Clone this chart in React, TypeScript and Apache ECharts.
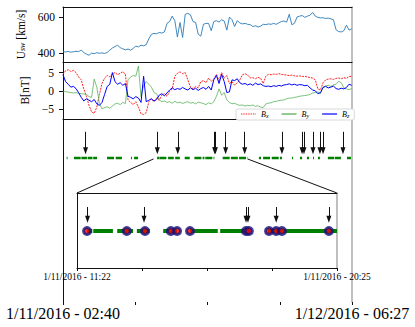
import React, { useEffect, useRef } from 'react';
import * as echarts from 'echarts';

const FONT = '"Liberation Serif", "Times New Roman", Times, serif';

// time in minutes since 1/11/2016 00:00
const T_START = 160; // 1/11/2016 02:40
const T_END = 1827; // 1/12/2016 06:27
const STEP = 15;
const INSET_START = 682; // 1/11/2016 11:22
const INSET_END = 1225; // 1/11/2016 20:25

const MAIN_TICK_LABELS = ['1/11/2016 - 02:40', '1/12/2016 - 06:27'];
const INSET_TICK_LABELS = ['1/11/2016 - 11:22', '1/11/2016 - 20:25'];
const U_TICKS = [400, 600];
const B_TICKS = [-5, 0, 5];

const U_SW = [
  410, 408, 411, 407, 409, 412, 410, 418, 405, 396,
  390, 402, 399, 404, 401, 403, 400, 405, 418, 430,
  438, 445, 432, 425, 420, 424, 418, 428, 440, 436,
  445, 442, 448, 480, 505, 510, 508, 515, 512, 518,
  565, 575, 605, 580, 490, 570, 488, 615, 620, 612,
  575, 570, 505, 495, 560, 565, 565, 525, 575, 580,
  572, 585, 578, 528, 600, 585, 548, 580, 568, 562,
  565, 560, 558, 548, 552, 545, 550, 560, 558, 562,
  560, 565, 560, 568, 575, 578, 572, 615, 558, 565,
  600, 605, 608, 598, 605, 610, 625, 605, 598, 595,
  596, 592, 594, 590, 585, 530, 520, 518, 525, 555,
  528, 535,
];

const BX = [
  4.5, 5.5, 5.8, 5.3, 5.6, 5.0, 3.8, 3.0, 0.5, -1.5,
  -4.0, -5.8, -6.2, -4.5, -1.0, 2.0, 3.5, 4.2, 3.8, 4.6,
  5.0, 4.4, 4.8, 5.2, 4.6, -2.5, -3.2, -3.8, -3.0, -4.5,
  -6.3, -6.5, -6.0, -3.0, -2.2, -3.0, -2.0, -2.6, -1.2, -0.8,
  -1.5, -0.2, 0.5, 4.0, 4.8, 5.2, 4.7, 5.0, 3.0, 1.0,
  0.6, 1.2, 0.8, 2.5, 2.8, 2.2, 3.5, 2.6, 3.2, 4.5,
  2.8, 5.0, 3.5, 4.2, 2.0, 2.5, 1.5, 2.2, 3.0, 4.4,
  4.7, 4.3, 3.5, 3.6, 3.3, 3.7, 3.4, 2.0, 4.0, 4.5,
  4.4, 4.6, 4.5, 4.7, 4.5, 4.4, 4.3, 4.2, 4.3, 4.1,
  4.0, 4.1, 3.9, 4.0, 3.8, 3.6, 3.5, 3.0, 0.5, 0.2,
  2.2, 3.0, 3.2, 3.3, 3.1, 3.4, 3.5, 3.3, 3.6, 3.4,
  3.9, 4.0,
];

const BY = [
  -0.3, -0.2, -0.4, -0.5, -0.6, -0.5, -0.7, -0.8, -0.9, -1.0,
  -1.6, -1.8, 3.2, 1.0, -3.5, -5.0, -4.6, -4.4, -4.8, -4.2,
  -3.6, -3.4, -3.8, -3.2, -3.5, 3.0, 3.8, 4.2, 4.0, 6.8,
  -1.6, 1.5, 2.5, 1.8, 1.0, -0.5, -0.8, -2.5, -3.0, -2.8,
  -3.2, -3.0, -3.4, -2.9, -3.3, -3.1, -3.5, -3.2, -3.0, -3.4,
  -3.2, -3.6, -3.1, -3.3, -3.5, -3.8, -3.3, -3.6, -3.0, -1.5,
  0.5, -1.2, -0.5, -2.5, -3.2, -3.6, -3.4, -3.8, -4.0, -3.9,
  -4.2, -4.0, -4.1, -3.9, -4.3, -4.1, -4.5, -4.6, -3.6, -3.4,
  -3.3, -3.0, -2.9, -2.7, -2.6, -2.5, -2.2, -2.0, -2.0, -1.8,
  -1.7, -1.5, -1.4, -1.3, -1.2, -1.0, -0.6, -0.5, -0.3, -0.8,
  1.0, 1.3, 1.5, 1.2, 1.6, 1.8, 2.6, 2.2, 0.8, 0.5,
  0.3, 0.6,
];

const BZ = [
  4.4, 2.5, 1.8, 1.0, 1.2, 0.6, -0.5, -1.8, -2.8, -2.2,
  -2.6, -3.0, -2.4, -3.6, -4.0, -3.2, -1.0, 1.2, 1.8, 5.0,
  2.5, 1.8, 2.2, 1.5, 2.0, -1.5, -1.8, -2.2, -1.6, -2.0,
  -3.2, 4.0, -3.0, -2.6, -2.2, -2.8, -2.4, -1.2, -0.8, -1.4,
  -0.6, 0.2, 0.8, 0.3, 0.6, 0.4, 0.9, 0.5, 0.2, 0.8,
  0.3, 0.7, 0.1, 0.6, 0.9, 0.4, 1.2, 0.2, 3.0, 4.2,
  2.0, 4.5, 2.5, -0.5, -0.3, 3.0, 2.8, 3.3, 2.2, 1.8,
  2.0, 1.6, 1.9, 1.5, 2.1, 1.7, 1.9, 1.4, 1.2, 1.3,
  1.1, 1.4, 1.2, 1.5, 1.3, 1.6, 1.7, 1.9, 1.6, 1.8,
  1.5, 1.7, 1.6, 1.4, 1.5, 0.8, 0.2, 0.0, -0.8, -0.5,
  0.9, 1.2, 0.8, 1.0, 1.3, 0.6, 0.4, 0.7, 0.5, 0.9,
  1.8, 1.5,
];

// event times (arrows)
const EVENTS = [290, 704, 822, 1035, 1039, 1098, 1208, 1423, 1539, 1550, 1602, 1642, 1660, 1775];
// detected points shown in the zoomed inset
const INSET_MARKERS = [703, 786, 824, 878, 891, 918, 1035, 1041, 1083, 1098, 1110, 1208];
// data coverage intervals [start, end]
const COVERAGE = [
  [181, 186], [223, 262], [266, 298], [302, 330], [334, 356], [414, 460], [464, 500], [552, 558], [570, 593],
  [703, 714], [716, 757], [766, 799], [807, 834], [862, 891], [918, 976], [981, 1033], [1081, 1225],
  [1290, 1302], [1314, 1360], [1364, 1423], [1481, 1487], [1527, 1539], [1567, 1579], [1602, 1608],
  [1631, 1642], [1688, 1725], [1729, 1763], [1798, 1821],
];

// layout constants (fractions of the timeline panels' height)
const MAIN_STRIP = 0.787;
const MAIN_ARROW_TOP = 0.93;
const MAIN_ARROW_END = 0.826;
const INSET_STRIP = 0.493;
const INSET_ARROW_TOP = 0.813;
const INSET_ARROW_END = 0.65;

const BLACK = '#111';
const GRAY = '#b0b0b0';

const DOTTED_ICON =
  'path://M0,0h1.4v1.2h-1.4z M2.4,0h1.4v1.2h-1.4z M4.8,0h1.4v1.2h-1.4z M7.2,0h1.4v1.2h-1.4z M9.6,0h1.4v1.2h-1.4z M12,0h1.4v1.2h-1.4z M14.4,0h0.6v1.2h-0.6z';
const SOLID_ICON = 'path://M0,0h15v1.2h-15z';

const toSeries = (vals: number[]) => vals.map((v, i) => [T_START + STEP * i, v]);
const stripData = (y: number) => {
  const out: any[] = [];
  COVERAGE.forEach(([a, b]) => {
    out.push([a, y], [b, y], [b, '-']);
  });
  return out;
};
const quarters = (a: number, b: number) => [0, 1, 2, 3, 4].map((k) => a + ((b - a) * k) / 4);
const minus = (v: number) => (v < 0 ? '\u2212' + Math.abs(v) : String(v));

const hiddenAxis = (extra: any) => ({
  type: 'value',
  axisTick: { show: false },
  axisLabel: { show: false },
  splitLine: { show: false },
  ...extra,
});

export default function App() {
  const ref = useRef<HTMLDivElement>(null);
  useEffect(() => {
    document.body.style.margin = '0';
    if (!ref.current) return;
    const chart = echarts.init(ref.current, undefined, { renderer: 'svg' });
    const blackLine = { show: true, onZero: false, lineStyle: { color: BLACK, width: 1 } };
    const grayLine = { show: true, onZero: false, lineStyle: { color: GRAY, width: 1.6 } };
    const insetEvents = EVENTS.filter((t) => t >= INSET_START && t <= INSET_END);

    const option: any = {
      animation: false,
      textStyle: { fontFamily: FONT },
      grid: [
        { left: 63, top: 7, width: 289, height: 55, outerBoundsMode: 'none' },
        { left: 63, top: 62, width: 289, height: 57, outerBoundsMode: 'none' },
        { left: 63, top: 119, width: 289, height: 183, outerBoundsMode: 'none' },
        { left: 77, top: 193, width: 260, height: 75, outerBoundsMode: 'none' },
      ],
      xAxis: [
        hiddenAxis({ gridIndex: 0, min: T_START, max: T_END, axisLine: blackLine }),
        hiddenAxis({ gridIndex: 0, min: T_START, max: T_END, position: 'top', axisLine: blackLine }),
        hiddenAxis({ gridIndex: 1, min: T_START, max: T_END, axisLine: blackLine }),
        {
          type: 'value', gridIndex: 2, min: T_START, max: T_END,
          axisLine: { show: false, onZero: false },
          splitLine: { show: false },
          axisTick: { show: true, customValues: quarters(T_START, T_END), length: 3, lineStyle: { color: BLACK } },
          axisLabel: {
            show: true, customValues: [T_START, T_END], showMinLabel: true, showMaxLabel: true,
            formatter: (v: number) => (Math.abs(v - T_START) < 1 ? MAIN_TICK_LABELS[0] : MAIN_TICK_LABELS[1]),
            fontFamily: FONT, fontSize: 16, color: '#000', margin: 3,
          },
        },
        {
          type: 'value', gridIndex: 3, min: INSET_START, max: INSET_END,
          axisLine: blackLine,
          splitLine: { show: false },
          axisTick: { show: true, customValues: quarters(INSET_START, INSET_END), length: 3, lineStyle: { color: BLACK } },
          axisLabel: {
            show: true, customValues: [INSET_START, INSET_END], showMinLabel: true, showMaxLabel: true,
            formatter: (v: number) => (Math.abs(v - INSET_START) < 1 ? INSET_TICK_LABELS[0] : INSET_TICK_LABELS[1]),
            fontFamily: FONT, fontSize: 9.5, color: '#000', margin: 4,
          },
        },
        hiddenAxis({ gridIndex: 3, min: INSET_START, max: INSET_END, position: 'top', axisLine: blackLine }),
      ],
      yAxis: [
        {
          type: 'value', gridIndex: 0, min: 353, max: 655,
          axisLine: blackLine, splitLine: { show: false },
          axisTick: { show: true, customValues: U_TICKS, length: 4, lineStyle: { color: BLACK } },
          axisLabel: { show: true, customValues: U_TICKS, fontFamily: FONT, fontSize: 11.5, color: '#000', margin: 8 },
          name: '{u|U}{s|sw}{u| [km/s]}',
          nameLocation: 'middle', nameGap: 23,
          nameTextStyle: {
            color: '#000', fontFamily: FONT, fontSize: 11.5,
            rich: {
              u: { fontFamily: FONT, fontSize: 11.5, color: '#000' },
              s: { fontFamily: FONT, fontSize: 8, fontStyle: 'italic', color: '#000', verticalAlign: 'bottom', lineHeight: 5 },
            },
          },
        },
        hiddenAxis({ gridIndex: 0, min: 353, max: 655, position: 'right', axisLine: grayLine }),
        {
          type: 'value', gridIndex: 1, min: -7.75, max: 7.9,
          axisLine: blackLine, splitLine: { show: false },
          axisTick: { show: true, customValues: B_TICKS, length: 4, lineStyle: { color: BLACK } },
          axisLabel: { show: true, customValues: B_TICKS, formatter: minus, fontFamily: FONT, fontSize: 11.5, color: '#000', margin: 9 },
          name: 'B[nT]',
          nameLocation: 'middle', nameGap: 21,
          nameTextStyle: { color: '#000', fontFamily: FONT, fontSize: 11.5 },
        },
        hiddenAxis({ gridIndex: 1, min: -7.75, max: 7.9, position: 'right', axisLine: grayLine }),
        hiddenAxis({ gridIndex: 2, min: 0, max: 1, axisLine: blackLine }),
        hiddenAxis({ gridIndex: 2, min: 0, max: 1, position: 'right', axisLine: grayLine }),
        hiddenAxis({ gridIndex: 3, min: 0, max: 1, axisLine: blackLine }),
        hiddenAxis({ gridIndex: 3, min: 0, max: 1, position: 'right', axisLine: grayLine }),
      ],
      legend: {
        data: [
          { name: 'Bx', icon: DOTTED_ICON },
          { name: 'By', icon: SOLID_ICON },
          { name: 'Bz', icon: SOLID_ICON },
        ],
        left: 236, top: 109,
        itemWidth: 15, itemHeight: 1.2, itemGap: 13,
        padding: [1, 5, 1, 5],
        backgroundColor: '#fff', borderColor: '#cfcfcf', borderWidth: 0.8, borderRadius: 2,
        formatter: (name: string) => `{b|B}{s|${name.slice(1)}}`,
        textStyle: {
          fontFamily: FONT, fontSize: 8, color: '#000',
          rich: {
            b: { fontFamily: FONT, fontSize: 8, fontStyle: 'italic', color: '#000', lineHeight: 10 },
            s: { fontFamily: FONT, fontSize: 6, fontStyle: 'italic', color: '#000', verticalAlign: 'bottom', lineHeight: 5 },
          },
        },
      },
      series: [
        {
          name: 'Usw', type: 'line', xAxisIndex: 0, yAxisIndex: 0, data: toSeries(U_SW),
          symbol: 'none', lineStyle: { color: '#2a7ab8', width: 0.9 }, silent: true,
        },
        {
          name: 'Bx', type: 'line', xAxisIndex: 2, yAxisIndex: 2, data: toSeries(BX),
          symbol: 'none', itemStyle: { color: '#ff2020' }, lineStyle: { color: '#ff2020', width: 1, type: [2, 1] }, silent: true,
        },
        {
          name: 'By', type: 'line', xAxisIndex: 2, yAxisIndex: 2, data: toSeries(BY),
          symbol: 'none', itemStyle: { color: '#4aa84a' }, lineStyle: { color: '#4aa84a', width: 0.9, opacity: 0.8 }, silent: true,
        },
        {
          name: 'Bz', type: 'line', xAxisIndex: 2, yAxisIndex: 2, data: toSeries(BZ),
          symbol: 'none', itemStyle: { color: '#0000ff' }, lineStyle: { color: '#0000ff', width: 1 }, silent: true,
        },
        {
          name: 'coverage', type: 'line', xAxisIndex: 3, yAxisIndex: 4, data: stripData(MAIN_STRIP),
          symbol: 'none', connectNulls: false, lineStyle: { color: '#008000', width: 2.6, type: [7, 1.2] }, silent: true,
          markLine: {
            silent: true, symbol: ['none', 'triangle'], symbolSize: [5, 7],
            lineStyle: { color: BLACK, width: 1, type: 'solid' }, label: { show: false },
            data: EVENTS.map((t) => [{ coord: [t, MAIN_ARROW_TOP] }, { coord: [t, MAIN_ARROW_END] }]),
          },
        },
        {
          name: 'coverageInset', type: 'line', xAxisIndex: 4, yAxisIndex: 6, data: stripData(INSET_STRIP),
          symbol: 'none', connectNulls: false, lineStyle: { color: '#008000', width: 4 }, silent: true,
          markLine: {
            silent: true, symbol: ['none', 'triangle'], symbolSize: [5, 7],
            lineStyle: { color: BLACK, width: 1, type: 'solid' }, label: { show: false },
            data: insetEvents.map((t) => [{ coord: [t, INSET_ARROW_TOP] }, { coord: [t, INSET_ARROW_END] }]),
          },
        },
        {
          name: 'markers', type: 'scatter', xAxisIndex: 4, yAxisIndex: 6,
          data: INSET_MARKERS.map((t) => [t, INSET_STRIP]),
          symbol: 'circle', symbolSize: 7, silent: true, z: 5,
          itemStyle: { color: '#ff0000', borderColor: '#12127a', borderWidth: 3 },
        },
      ],
    };
    chart.setOption(option);

    const a = chart.convertToPixel({ seriesIndex: 4 }, [INSET_START, MAIN_STRIP]) as number[];
    const b = chart.convertToPixel({ seriesIndex: 4 }, [INSET_END, MAIN_STRIP]) as number[];
    const c = chart.convertToPixel({ seriesIndex: 5 }, [INSET_START, 1]) as number[];
    const d = chart.convertToPixel({ seriesIndex: 5 }, [INSET_END, 1]) as number[];
    chart.setOption({
      graphic: [
        { type: 'line', shape: { x1: a[0], y1: a[1] + 1, x2: c[0], y2: c[1] }, style: { stroke: BLACK, lineWidth: 1 } },
        { type: 'line', shape: { x1: b[0], y1: b[1] + 1, x2: d[0], y2: d[1] }, style: { stroke: BLACK, lineWidth: 1 } },
      ],
    });
    return () => chart.dispose();
  }, []);
  return <div ref={ref} style={{ width: 415, height: 327 }} />;
}
